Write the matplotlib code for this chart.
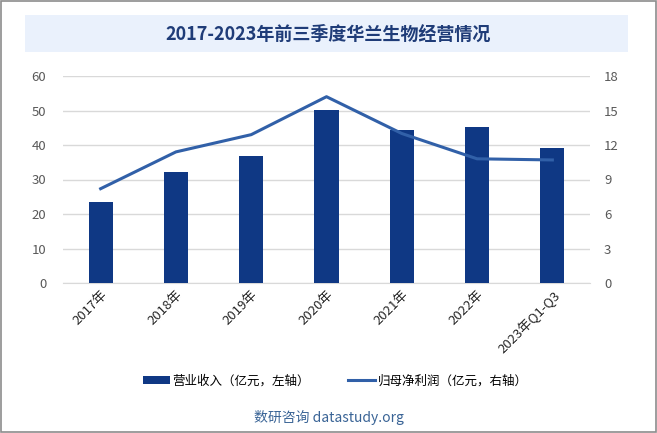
import numpy as np
import matplotlib.pyplot as plt
from matplotlib.patches import Rectangle

plt.rcParams['font.family'] = ['Noto Sans CJK SC', 'DejaVu Sans']

# data
years = ['2017年', '2018年', '2019年', '2020年', '2021年', '2022年', '2023年Q1-Q3']
revenue = [23.5, 32.2, 36.8, 50.1, 44.3, 45.2, 39.1]      # 营业收入（亿元）
net_profit = [8.2, 11.4, 12.9, 16.2, 13.0, 10.8, 10.7]   # 归母净利润（亿元）

bar_color = '#0f3884'
line_color = '#3160a8'

fig = plt.figure(figsize=(6.57, 4.33), dpi=100)
fig.patches.append(Rectangle((0.001, 0.003), 0.997, 0.995, transform=fig.transFigure,
                             fill=False, edgecolor='#8c8c8c', linewidth=1.2))

# title box
fig.patches.append(Rectangle((25 / 657, 1 - 52 / 433), 603 / 657, 37 / 433,
                             transform=fig.transFigure, facecolor='#eaf1fc', edgecolor='none'))
fig.text(0.5, 1 - 34 / 433, '2017-2023年前三季度华兰生物经营情况', ha='center', va='center',
         fontsize=13, fontweight='bold', color='#1f3c78')

ax = fig.add_axes([63 / 657, 1 - 283 / 433, 527 / 657, 207 / 433])
x = np.arange(len(years))
ax.bar(x, revenue, width=0.32, color=bar_color, zorder=3, label='营业收入（亿元，左轴）')
ax.set_ylim(0, 60)
ax.set_yticks(np.arange(0, 61, 10))
ax.set_xlim(-0.5, len(years) - 0.5)
ax.grid(axis='y', color='#d9d9d9', linewidth=1, zorder=0)
for s in ['top', 'right', 'left']:
    ax.spines[s].set_visible(False)
ax.spines['bottom'].set_color('#d9d9d9')
ax.tick_params(axis='y', length=0, labelsize=9.5, labelcolor='#595959', pad=12)
ax.tick_params(axis='x', length=0, labelsize=9.5, labelcolor='#262626', pad=4)
ax.set_xticks(x)
ax.set_xticklabels(years, rotation=45, ha='right', rotation_mode='anchor')

ax2 = ax.twinx()
ax2.plot(x, net_profit, color=line_color, linewidth=2.2, zorder=4, label='归母净利润（亿元，右轴）')
ax2.set_ylim(0, 18)
ax2.set_yticks(np.arange(0, 19, 3))
for s in ax2.spines.values():
    s.set_visible(False)
ax2.tick_params(axis='y', length=0, labelsize=9.5, labelcolor='#595959', pad=10)

h1, l1 = ax.get_legend_handles_labels()
h2, l2 = ax2.get_legend_handles_labels()
fig.legend(h1 + h2, l1 + l2, loc='center', bbox_to_anchor=(0.51, 1 - 381 / 433), ncol=2,
           frameon=False, fontsize=9, handlelength=2.2, handleheight=0.6, columnspacing=3,
           handletextpad=0.2)

fig.text(0.5, 1 - 417 / 433, '数研咨询 datastudy.org', ha='center', va='center',
         fontsize=10, color='#3a6496')

fig.savefig('out.png', dpi=100)
